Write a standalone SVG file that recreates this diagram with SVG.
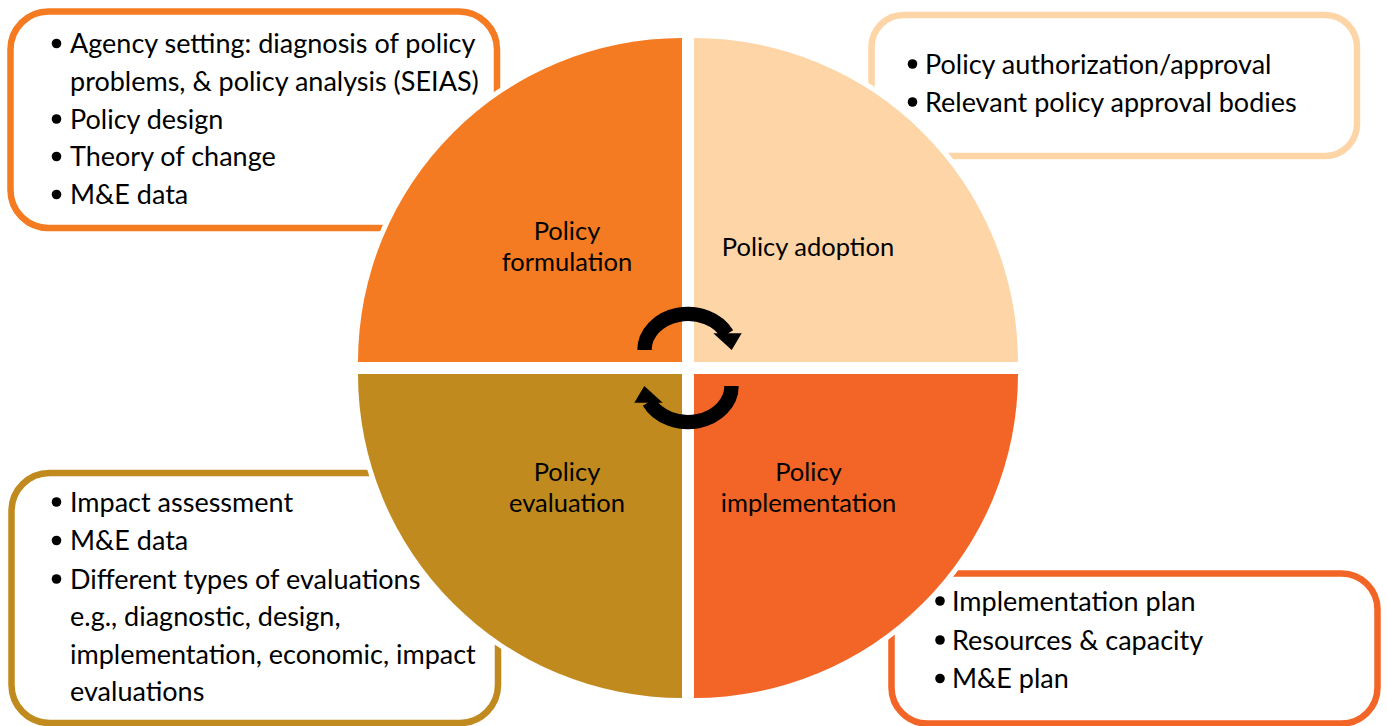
<svg xmlns="http://www.w3.org/2000/svg" width="1387" height="726" viewBox="0 0 1387 726">
  <style>
    .box { fill: #ffffff; stroke-width: 6.5; }
    .txt { font-family: Lato, "Liberation Sans", sans-serif; font-size: 27px; fill: #000000; }
    .lbl { font-family: Lato, "Liberation Sans", sans-serif; font-size: 25.5px; fill: #000000; text-anchor: middle; }
    .blt { fill: #000000; }
    .quad { stroke: #ffffff; stroke-width: 10; paint-order: stroke fill; }
    .arc { fill: none; stroke: #000000; stroke-width: 14.4; stroke-linecap: butt; }
    .head { fill: #000000; }
  </style>
  <rect width="1387" height="726" fill="#ffffff"/>

  <g id="box-formulation">
    <rect class="box" x="10.5" y="11.5" width="486.5" height="216.5" rx="38" stroke="#F47B22"/>
    <circle class="blt" cx="56.5" cy="43.5" r="4.8"/>
    <text class="txt" x="70" y="53">Agency setting: diagnosis of policy</text>
    <text class="txt" x="70" y="91">problems, &amp; policy analysis (SEIAS)</text>
    <circle class="blt" cx="56.5" cy="119" r="4.8"/>
    <text class="txt" x="70" y="128.5">Policy design</text>
    <circle class="blt" cx="56.5" cy="156.5" r="4.8"/>
    <text class="txt" x="70" y="166">Theory of change</text>
    <circle class="blt" cx="56.5" cy="194.5" r="4.8"/>
    <text class="txt" x="70" y="204">M&amp;E data</text>
  </g>

  <g id="box-adoption">
    <rect class="box" x="871.5" y="15" width="485.5" height="141" rx="32" stroke="#FDD5A7"/>
    <circle class="blt" cx="912.5" cy="64" r="4.8"/>
    <text class="txt" x="925" y="73.5">Policy authorization/approval</text>
    <circle class="blt" cx="912.5" cy="102" r="4.8"/>
    <text class="txt" x="925" y="111.5">Relevant policy approval bodies</text>
  </g>

  <g id="box-evaluation">
    <rect class="box" x="11.5" y="473" width="486.5" height="250" rx="38" stroke="#C08A1E"/>
    <circle class="blt" cx="56.5" cy="502" r="4.8"/>
    <text class="txt" x="70" y="511.5">Impact assessment</text>
    <circle class="blt" cx="56.5" cy="540.5" r="4.8"/>
    <text class="txt" x="70" y="550">M&amp;E data</text>
    <circle class="blt" cx="56.5" cy="579" r="4.8"/>
    <text class="txt" x="70" y="588.5">Different types of evaluations</text>
    <text class="txt" x="70" y="626">e.g., diagnostic, design,</text>
    <text class="txt" x="70" y="663.5">implementation, economic, impact</text>
    <text class="txt" x="70" y="701">evaluations</text>
  </g>

  <g id="box-implementation">
    <rect class="box" x="891.5" y="573.5" width="486" height="150" rx="36" stroke="#F26526"/>
    <circle class="blt" cx="940" cy="601" r="4.8"/>
    <text class="txt" x="952" y="610.5">Implementation plan</text>
    <circle class="blt" cx="940" cy="640" r="4.8"/>
    <text class="txt" x="952" y="649.5">Resources &amp; capacity</text>
    <circle class="blt" cx="940" cy="678.5" r="4.8"/>
    <text class="txt" x="952" y="688">M&amp;E plan</text>
  </g>

  <g id="node-formulation">
    <path class="quad" d="M682,362 L358,362 A324,324 0 0 1 682,38 Z" fill="#F47B22"/>
    <text class="lbl" x="567" y="240">Policy</text>
    <text class="lbl" x="567" y="271">formulation</text>
  </g>
  <g id="node-adoption">
    <path class="quad" d="M694,362 L694,38 A324,324 0 0 1 1018,362 Z" fill="#FDD5A7"/>
    <text class="lbl" x="808" y="255.5">Policy adoption</text>
  </g>
  <g id="node-implementation">
    <path class="quad" d="M694,374 L1018,374 A324,324 0 0 1 694,698 Z" fill="#F26526"/>
    <text class="lbl" x="808.5" y="481">Policy</text>
    <text class="lbl" x="808.5" y="512">implementation</text>
  </g>
  <g id="node-evaluation">
    <path class="quad" d="M682,374 L682,698 A324,324 0 0 1 358,374 Z" fill="#C08A1E"/>
    <text class="lbl" x="567" y="481">Policy</text>
    <text class="lbl" x="567" y="512">evaluation</text>
  </g>

  <g id="connectors">
    <g id="cycle-arrow-top">
      <path class="arc" d="M644.5,350 A43.5,36 0 0 1 727,334"/>
      <polygon class="head" points="713.3,333.3 741.7,333.3 731.7,350"/>
    </g>
    <g id="cycle-arrow-bottom" transform="rotate(180 688 368)">
      <path class="arc" d="M644.5,350 A43.5,36 0 0 1 727,334"/>
      <polygon class="head" points="713.3,333.3 741.7,333.3 731.7,350"/>
    </g>
  </g>
</svg>
